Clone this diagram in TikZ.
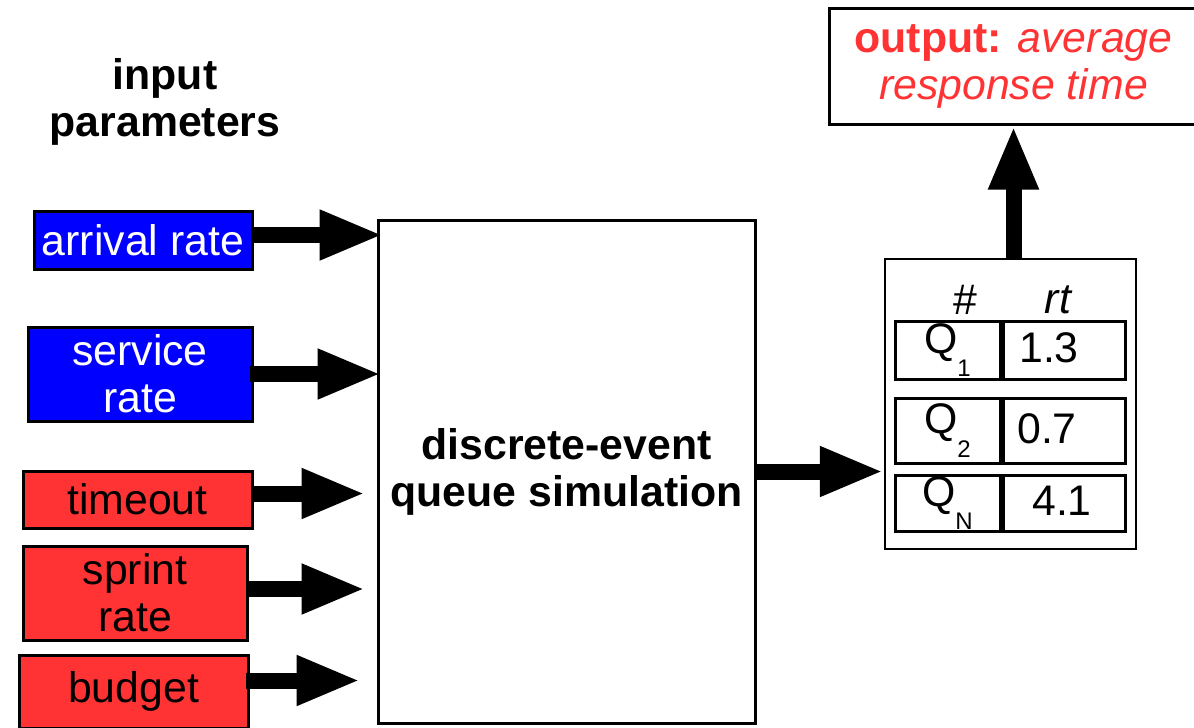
\documentclass[tikz,border=0pt]{standalone}
\usepackage{fontspec}
\setmainfont{Liberation Sans}
\usepackage{tikz}
\usetikzlibrary{arrows.meta,positioning,calc}
\definecolor{ParamBlue}{RGB}{0,0,255}
\definecolor{ParamRed}{RGB}{255,51,51}
\newcommand{\qsub}[1]{\raisebox{-0.55em}{\fontsize{12}{12}\selectfont #1}}

\begin{document}
\begin{tikzpicture}[x=0.5pt,y=-0.5pt,
    txt/.style={font=\fontsize{21.4}{23.5}\selectfont},
    inbox/.style={txt, draw, line width=1.5pt, inner sep=0pt, align=center},
    cell/.style={txt, draw, line width=1.5pt, inner sep=0pt},
    flow/.style={line width=8pt, -{Triangle[length=32pt,width=23pt]}}]
  \useasboundingbox (0,0) rectangle (1194,728);

  % input parameters
  \node[txt, font=\fontsize{21.4}{23.5}\selectfont\bfseries, align=center] (title) at (165,102) {input\\parameters};
  \node[inbox, fill=ParamBlue, text=white, minimum width=109pt, minimum height=29pt] (arr) at (143,240) {arrival rate};
  \node[inbox, fill=ParamBlue, text=white, minimum width=112pt, minimum height=47pt] (srv) at (140,374) {service\\rate};
  \node[inbox, fill=ParamRed, minimum width=114.5pt, minimum height=28.5pt] (tmo) at (137.5,499.5) {timeout};
  \node[inbox, fill=ParamRed, minimum width=112pt, minimum height=47pt] (spr) at (135,593) {sprint\\rate};
  \node[inbox, fill=ParamRed, minimum width=114.5pt, minimum height=36.5pt] (bud) at (133.5,691.5) {budget};

  % simulator
  \node[inbox, font=\fontsize{21.4}{23.5}\selectfont\bfseries, minimum width=188.5pt, minimum height=251.5pt] (main) at (566.5,471.5) {discrete-event\\queue simulation};

  % results table
  \node[draw, line width=1.25pt, minimum width=125.5pt, minimum height=145pt] (tbl) at (1010.5,404) {};
  \node[txt] (hash) at (965,300) {\#};
  \node[txt, font=\fontsize{21.4}{23.5}\selectfont\itshape] (rthead) at (1058,300) {rt};
  \foreach \n/\sub/\val/\y/\h/\pad in {1/1/1.3/350/29pt/15pt,2/2/0.7/430.5/32.5pt/17pt,3/N/4.1/503/28pt/2pt} {
    \node[cell, minimum width=52.5pt, minimum height=\h] (q\n) at (947.5,\y) {Q\qsub{\sub}};
    \node[cell, minimum width=61pt, minimum height=\h, anchor=west] (v\n) at (q\n.east) {\raisebox{2pt}{\val}\hspace*{\pad}};
  }

  % output
  \node[inbox, text=ParamRed, minimum width=184.5pt, minimum height=58pt] (out) at (1013.5,66) {\textbf{output:} \textit{average}\\\textit{response time}};

  % arrows
  \draw[flow] ([yshift=2.5pt]arr.east) -- ([xshift=3.5pt,yshift=2.5pt]arr.east -| main.west);
  \draw[flow] ([xshift=-2pt]srv.east) -- ([xshift=2.5pt]srv.east -| main.west);
  \draw[flow] ([yshift=3pt]tmo.east) -- ([xshift=-5.5pt,yshift=3pt]tmo.east -| main.west);
  \draw[flow] ([yshift=2pt]spr.east) -- ([xshift=-5.5pt,yshift=2pt]spr.east -| main.west);
  \draw[flow] ([xshift=-2pt,yshift=5.5pt]bud.east) -- ([xshift=-8pt,yshift=5.5pt]bud.east -| main.west);
  \draw[flow] (main.east) -- (main.east -| tbl.west);
  \draw[flow] (out.south |- tbl.north) -- (out.south);
\end{tikzpicture}
\end{document}
